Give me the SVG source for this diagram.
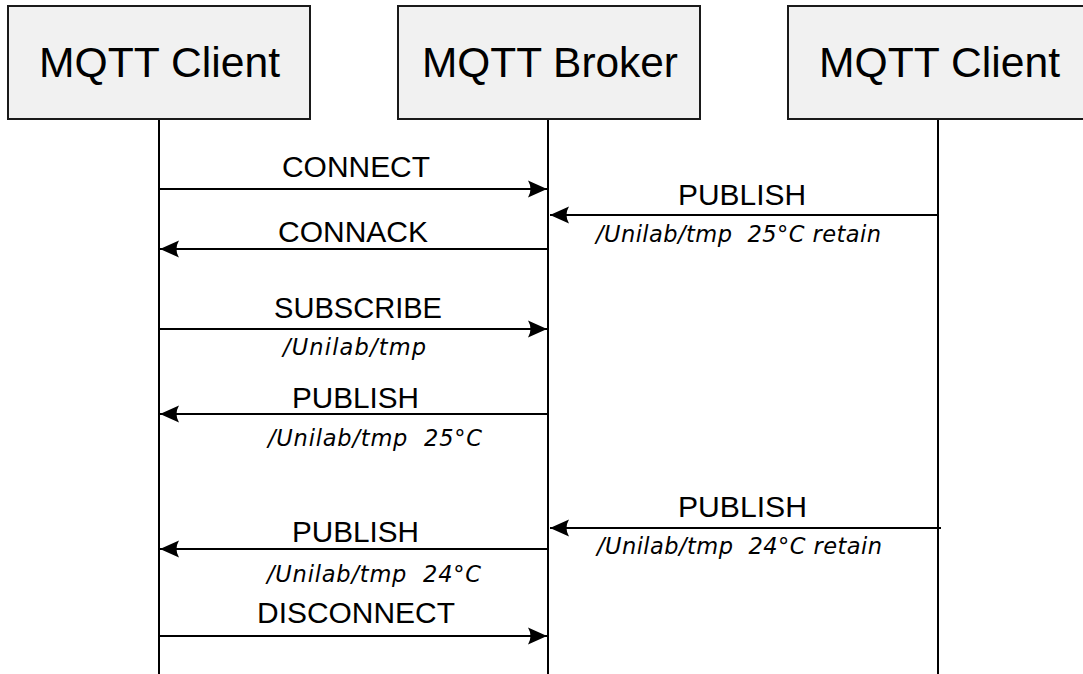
<svg xmlns="http://www.w3.org/2000/svg" width="1083" height="674" viewBox="0 0 1083 674">
  <style>
    .box { fill: #f1f1f1; stroke: #1a1a1a; stroke-width: 2; }
    .life { stroke: #000; stroke-width: 2; fill: none; }
    .msg { stroke: #000; stroke-width: 2; fill: none; marker-end: url(#ah); }
    .head { font-family: "Liberation Sans", Arial, sans-serif; font-size: 42px; fill: #000; }
    .lbl { font-family: "Liberation Sans", Arial, sans-serif; font-size: 29px; fill: #000; }
    .sub { font-family: "DejaVu Sans", "Liberation Sans", sans-serif; font-style: oblique; font-size: 22.5px; fill: #000; }
  </style>
  <defs>
    <marker id="ah" markerUnits="userSpaceOnUse" markerWidth="20" markerHeight="18" viewBox="0 0 20 18" refX="19" refY="9" orient="auto">
      <path d="M0,0.5 L19,9 L0,17.5 Q5,9 0,0.5 Z" fill="#000"/>
    </marker>
  </defs>
  <rect width="1083" height="674" fill="#fff"/>

  <g id="client1">
    <line class="life" x1="159" y1="119" x2="159" y2="674"/>
    <rect class="box" x="8" y="6" width="302" height="113"/>
    <text class="head" x="39" y="77" textLength="241" lengthAdjust="spacingAndGlyphs">MQTT Client</text>
  </g>
  <g id="broker">
    <line class="life" x1="548" y1="119" x2="548" y2="674"/>
    <rect class="box" x="398" y="6" width="302" height="113"/>
    <text class="head" x="422" y="77" textLength="256" lengthAdjust="spacingAndGlyphs">MQTT Broker</text>
  </g>
  <g id="client2">
    <line class="life" x1="938" y1="119" x2="938" y2="674"/>
    <rect class="box" x="788" y="6" width="302" height="113"/>
    <text class="head" x="819" y="77" textLength="241" lengthAdjust="spacingAndGlyphs">MQTT Client</text>
  </g>

  <g id="connectors">
    <g id="m-connect">
      <line class="msg" x1="159" y1="189" x2="547" y2="189"/>
      <text class="lbl" x="282" y="177" textLength="148" lengthAdjust="spacingAndGlyphs">CONNECT</text>
    </g>
    <g id="m-publish-r1">
      <line class="msg" x1="938" y1="215" x2="550" y2="215"/>
      <text class="lbl" x="678" y="205" textLength="128" lengthAdjust="spacingAndGlyphs">PUBLISH</text>
      <text class="sub" x="596" y="242" textLength="285" xml:space="preserve">/Unilab/tmp  25°C retain</text>
    </g>
    <g id="m-connack">
      <line class="msg" x1="548" y1="249" x2="160" y2="249"/>
      <text class="lbl" x="278" y="242" textLength="150" lengthAdjust="spacingAndGlyphs">CONNACK</text>
    </g>
    <g id="m-subscribe">
      <line class="msg" x1="159" y1="329" x2="547" y2="329"/>
      <text class="lbl" x="274" y="318" textLength="168" lengthAdjust="spacingAndGlyphs">SUBSCRIBE</text>
      <text class="sub" x="283" y="355" textLength="143">/Unilab/tmp</text>
    </g>
    <g id="m-publish-l1">
      <line class="msg" x1="548" y1="414" x2="160" y2="414"/>
      <text class="lbl" x="292" y="408" textLength="127" lengthAdjust="spacingAndGlyphs">PUBLISH</text>
      <text class="sub" x="268" y="446" textLength="214" xml:space="preserve">/Unilab/tmp  25°C</text>
    </g>
    <g id="m-publish-r2">
      <line class="msg" x1="941" y1="528" x2="550" y2="528"/>
      <text class="lbl" x="678" y="517" textLength="129" lengthAdjust="spacingAndGlyphs">PUBLISH</text>
      <text class="sub" x="597" y="554" textLength="285" xml:space="preserve">/Unilab/tmp  24°C retain</text>
    </g>
    <g id="m-publish-l2">
      <line class="msg" x1="548" y1="549" x2="160" y2="549"/>
      <text class="lbl" x="292" y="542" textLength="127" lengthAdjust="spacingAndGlyphs">PUBLISH</text>
      <text class="sub" x="267" y="582" textLength="214" xml:space="preserve">/Unilab/tmp  24°C</text>
    </g>
    <g id="m-disconnect">
      <line class="msg" x1="159" y1="636" x2="547" y2="636"/>
      <text class="lbl" x="257" y="623" textLength="198" lengthAdjust="spacingAndGlyphs">DISCONNECT</text>
    </g>
  </g>
</svg>
